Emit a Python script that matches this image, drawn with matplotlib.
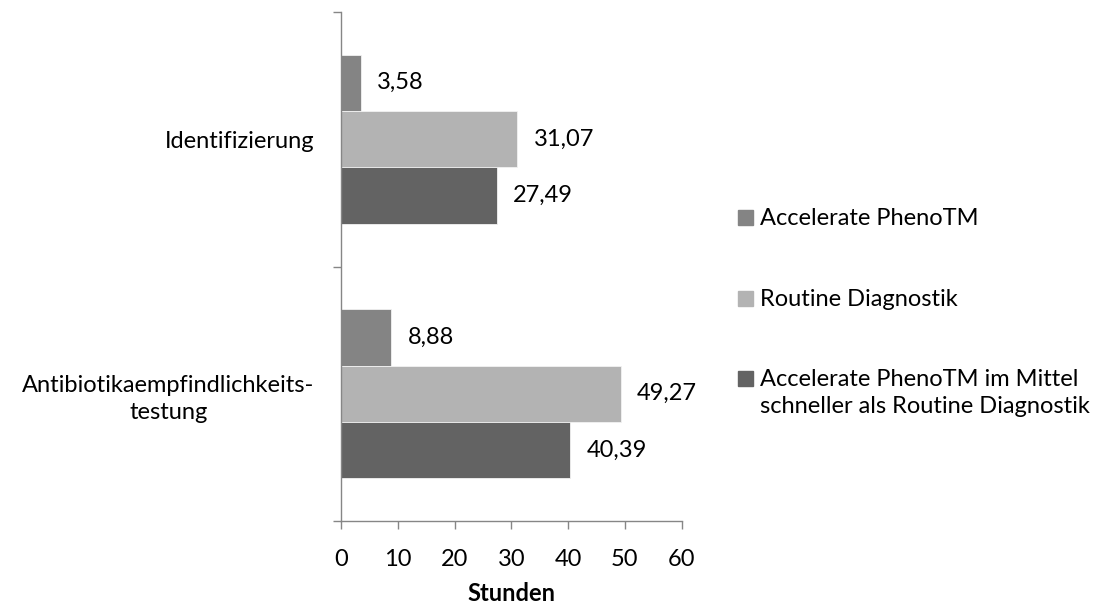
import numpy as np
import matplotlib.pyplot as plt
from matplotlib.patches import Rectangle

categories = ['Identifizierung', 'Antibiotikaempfindlichkeits-\ntestung']
series_names = ['Accelerate PhenoTM', 'Routine Diagnostik',
                'Accelerate PhenoTM im Mittel\nschneller als Routine Diagnostik']
accelerate = [3.58, 8.88]
routine = [31.07, 49.27]
difference = [27.49, 40.39]
value_labels = [['3,58', '8,88'], ['31,07', '49,27'], ['27,49', '40,39']]
colors = ['#848484', '#b3b3b3', '#636363']
xticks = [0, 10, 20, 30, 40, 50, 60]

plt.rcParams['font.family'] = ['Lato', 'DejaVu Sans']
fs = 17
axis_col = '#868686'

fig = plt.figure(figsize=(11.1, 6.07), dpi=100)
ax = fig.add_axes([341/1110, 1 - 521/607, 340.7/1110, 509/607])

y = np.arange(len(categories))
h = 0.2217
for i, vals in enumerate([accelerate, routine, difference]):
    ypos = y + (i - 1) * h
    bars = ax.barh(ypos, vals, height=h, color=colors[i],
                   edgecolor='#f2f2f2', linewidth=0.6)
    for b, lab in zip(bars, value_labels[i]):
        ax.annotate(lab, (b.get_width(), b.get_y() + b.get_height() / 2),
                    xytext=(16, 0), textcoords='offset pixels',
                    ha='left', va='center', fontsize=fs, color='black')

ax.set_xlim(0, 60)
ax.set_ylim(1.5, -0.5)
ax.set_xticks(xticks)
ax.set_xticklabels([str(t) for t in xticks], fontsize=fs)
ax.set_yticks(y)
ax.set_yticklabels(categories, fontsize=fs, multialignment='center')
for lbl in ax.get_yticklabels():
    lbl.set_linespacing(1.35)
ax.set_yticks([-0.5, 0.5, 1.5], minor=True)
ax.tick_params(axis='y', which='major', length=0, pad=19)
ax.tick_params(axis='y', which='minor', length=6, width=1, color=axis_col)
ax.tick_params(axis='x', length=6, width=1, color=axis_col, pad=14)
ax.set_xlabel('Stunden', fontsize=fs, fontweight='bold', labelpad=9)

for s in ['top', 'right']:
    ax.spines[s].set_visible(False)
for s in ['left', 'bottom']:
    ax.spines[s].set_color(axis_col)
    ax.spines[s].set_linewidth(1)

# legend drawn by hand so the marker sits on the first text line
leg_base = [225, 306, 386]
for name, c, yb in zip(series_names, colors, leg_base):
    fig.patches.append(Rectangle((738/1110, 1 - yb/607), 15/1110, 15/607,
                                 transform=fig.transFigure, color=c))
    first, *rest = name.split('\n')
    fig.text(760/1110, 1 - yb/607, first, fontsize=fs, va='baseline', ha='left')
    for k, line in enumerate(rest, start=1):
        fig.text(760/1110, 1 - (yb + 26.7 * k)/607, line, fontsize=fs,
                 va='baseline', ha='left')

fig.savefig('out.png', dpi=100)
